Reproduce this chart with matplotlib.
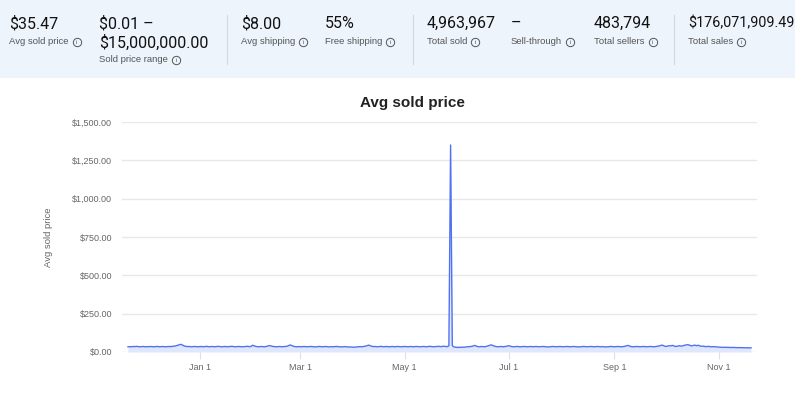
import matplotlib
matplotlib.use('Agg')
import numpy as np
import pandas as pd
import matplotlib.pyplot as plt
import matplotlib.dates as mdates
from matplotlib.patches import Rectangle
from matplotlib.lines import Line2D

# summary stats in the top panel
stat_values = ['$35.47', '$0.01 \u2013\n$15,000,000.00', '$8.00', '55%',
               '4,963,967', '\u2013', '483,794', '$176,071,909.49']
stat_labels = ['Avg sold price', 'Sold price range', 'Avg shipping', 'Free shipping',
               'Total sold', 'Sell-through', 'Total sellers', 'Total sales']

# daily avg sold price, 2022-11-20 .. 2023-11-20
nov22 = [34, 35, 34, 36, 35, 37, 35, 34, 35, 36, 34]
dec22 = [35, 34, 36, 35, 34, 35, 36, 35, 34, 36, 35, 34, 35, 36, 35, 37, 38, 40, 43, 47,
         50, 45, 39, 37, 35, 36, 34, 35, 36, 35, 34]
jan23 = [35, 36, 34, 35, 37, 35, 34, 36, 35, 34, 36, 37, 35, 34, 35, 36, 34, 35, 36, 37,
         35, 34, 35, 36, 35, 34, 35, 36, 37, 35, 36]
feb23 = [44, 40, 36, 35, 34, 36, 35, 34, 36, 39, 42, 39, 36, 35, 34, 35, 36, 34, 35, 36,
         37, 41, 46, 42, 37, 35, 34, 35]
mar23 = [35, 34, 36, 35, 34, 35, 36, 35, 34, 33, 35, 36, 35, 34, 35, 36, 34, 33, 35, 34,
         35, 36, 35, 34, 33, 34, 35, 34, 33, 32, 33]
apr23 = [31, 32, 33, 34, 35, 34, 36, 38, 41, 45, 40, 37, 35, 36, 34, 35, 37, 35, 34, 36,
         35, 34, 35, 36, 34, 35, 36, 35, 34, 35]
may23 = [36, 35, 34, 35, 36, 34, 35, 36, 35, 34, 35, 36, 35, 34, 36, 37, 35, 34, 35, 36,
         37, 35, 36, 38, 36, 35, 40, 1350, 42, 33, 31]
jun23 = [30, 31, 30, 32, 31, 33, 34, 35, 36, 38, 43, 39, 35, 34, 36, 35, 34, 37, 40, 44,
         46, 41, 37, 35, 34, 36, 35, 34, 36, 38]
jul23 = [41, 38, 35, 34, 35, 36, 35, 34, 35, 36, 35, 34, 35, 36, 34, 35, 36, 35, 34, 35,
         36, 35, 34, 33, 34, 35, 36, 35, 34, 35, 36]
aug23 = [35, 34, 35, 36, 35, 34, 35, 36, 35, 34, 33, 34, 35, 36, 35, 34, 35, 36, 35, 34,
         35, 36, 35, 34, 35, 34, 33, 34, 35, 36, 35]
sep23 = [34, 35, 36, 35, 34, 35, 37, 40, 43, 38, 35, 34, 35, 36, 35, 34, 35, 36, 35, 34,
         35, 36, 35, 34, 35, 37, 39, 42, 45, 40]
oct23 = [36, 38, 41, 40, 43, 39, 36, 38, 41, 38, 40, 44, 46, 48, 44, 40, 42, 45, 41, 44,
         40, 37, 38, 36, 35, 37, 35, 34, 35, 34, 33]
nov23 = [32, 31, 31, 30, 31, 30, 30, 29, 30, 29, 29, 28, 29, 28, 28, 28, 27, 28, 27, 27]

prices = nov22 + dec22 + jan23 + feb23 + mar23 + apr23 + may23 + jun23 + \
    jul23 + aug23 + sep23 + oct23 + nov23
dates = pd.date_range('2022-11-20', periods=len(prices), freq='D')

W, H = 800, 395


def fx(px):
    return px / W


def fy(py):
    return 1 - py / H


fig = plt.figure(figsize=(8, 3.95), dpi=100)
fig.patch.set_facecolor('white')
renderer = fig.canvas.get_renderer()

# top stats panel
fig.patches.append(Rectangle((0, fy(78)), fx(795), 78 / H, transform=fig.transFigure,
                             facecolor='#eef4fc', edgecolor='none', zorder=0))
xs = [9, 99, 241, 325, 427, 511, 594, 688]
for i in range(len(stat_values)):
    two_line = '\n' in stat_values[i]
    size = 10.4 if i == len(stat_values) - 1 else 11.5
    fig.text(fx(xs[i]), fy(16), stat_values[i], ha='left', va='top', fontsize=size,
             family='Roboto', color='#111111', linespacing=1.25)
    ly = 60 if two_line else 42
    t = fig.text(fx(xs[i]), fy(ly), stat_labels[i], ha='left', va='center', fontsize=6.8,
                 family='Liberation Sans', color='#555555')
    ix = t.get_window_extent(renderer).x1 + 8
    fig.add_artist(Line2D([fx(ix)], [fy(ly)], marker='o', ms=6, mfc='none',
                          mec='#555555', mew=0.7, transform=fig.transFigure))
    fig.text(fx(ix), fy(ly), 'i', ha='center', va='center', fontsize=4.5,
             family='Liberation Sans', color='#555555')
for sx in [227, 413, 674]:
    fig.add_artist(Line2D([fx(sx), fx(sx)], [fy(15), fy(64)], color='#d5d9de', lw=0.8,
                          transform=fig.transFigure))

# chart
ax = fig.add_axes([fx(122), fy(352), fx(757) - fx(122), (352 - 122) / H])
x = mdates.date2num(dates)
ax.fill_between(x, 0, prices, color='#dfe7fc', lw=0, zorder=2)
ax.plot(x, prices, color='#4f72f0', lw=1.0, zorder=3)
ax.set_ylim(0, 1500)
ax.set_yticks([0, 250, 500, 750, 1000, 1250, 1500])
ax.set_yticklabels(['$0.00', '$250.00', '$500.00', '$750.00', '$1,000.00',
                    '$1,250.00', '$1,500.00'])
ax.set_xlim(x[0] - 3.5, x[-1] + 3.5)
ax.xaxis.set_major_locator(mdates.MonthLocator(bymonth=[1, 3, 5, 7, 9, 11]))
ax.xaxis.set_major_formatter(plt.FuncFormatter(
    lambda v, p: mdates.num2date(v).strftime('%b ') + str(mdates.num2date(v).day)))
ax.grid(axis='y', color='#e8e8e8', lw=1.0, zorder=0)
for s in ax.spines.values():
    s.set_visible(False)
ax.tick_params(axis='y', length=0, pad=7, labelsize=6.5, labelcolor='#666666')
ax.tick_params(axis='x', length=5, width=0.8, color='#e0e0e0', pad=3,
               labelsize=6.5, labelcolor='#666666')
for lab in ax.get_xticklabels() + ax.get_yticklabels():
    lab.set_family('Liberation Sans')
ax.set_ylabel('Avg sold price', fontsize=6.8, color='#666666', family='Liberation Sans',
              labelpad=14)
fig.text(fx(412), fy(103), 'Avg sold price', ha='center', va='center', fontsize=11,
         fontweight='bold', family='Liberation Sans', color='#222222')

plt.savefig('out.png', dpi=100)
